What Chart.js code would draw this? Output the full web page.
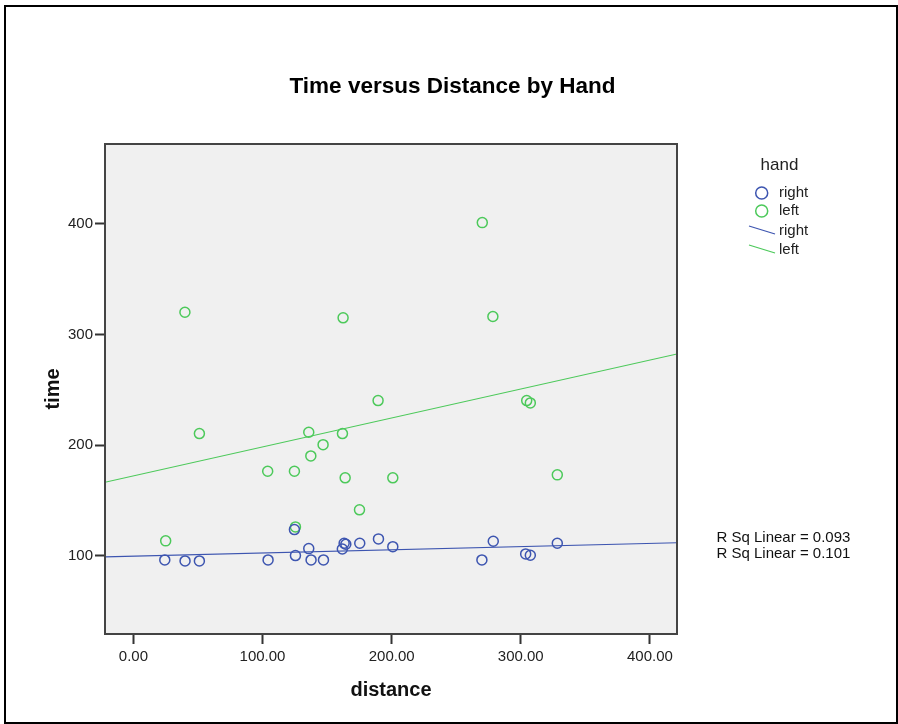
<!DOCTYPE html>
<html>
<head>
<meta charset="utf-8">
<script src="https://cdn.jsdelivr.net/npm/chart.js@4"></script>
<style>
body{margin:0;background:#fff;}
canvas{display:block;}
</style>
</head>
<body>
<canvas id="c" width="898" height="724"></canvas>
<script>
// values
const rightDistance = [24.3, 40, 51.1, 104.3, 124.7, 125.5, 135.8, 137.6, 147.2, 161.8, 163.2, 164.5, 175.3, 189.8, 200.9, 269.9, 278.7, 303.8, 307.4, 328.3];
const rightTime     = [96.4, 95.5, 95.5, 96.4, 123.8, 100.3, 106.6, 96.4, 96.4, 106.3, 111.5, 110.5, 111.5, 115.4, 108.4, 96.4, 113.3, 101.8, 100.6, 111.5];
const leftDistance  = [25, 39.9, 51.1, 104, 124.7, 125.5, 135.8, 137.4, 146.9, 161.9, 162.4, 164, 175.1, 189.5, 200.9, 270.2, 278.4, 304.6, 307.4, 328.3];
const leftTime      = [113.6, 320.1, 210.5, 176.5, 176.5, 126.2, 211.7, 190.3, 200.5, 210.5, 315, 170.5, 141.6, 240.3, 170.5, 401, 316.2, 240.3, 238.2, 173.2];
const xTicks = [0, 100, 200, 300, 400];
const yTicks = [100, 200, 300, 400];
const groups = ['right', 'left'];
const rSqLabels = ['R Sq Linear = 0.093', 'R Sq Linear = 0.101'];

const xMin = -22, xMax = 421, yMin = 29.5, yMax = 472;
const BLUE = '#3d55b0', GREEN = '#4cc95a';
const FONT = "'Liberation Sans', Arial, sans-serif";

function fit(xs, ys){
    let n = xs.length;
    let mx = xs.reduce((a,b)=>a+b,0)/n, my = ys.reduce((a,b)=>a+b,0)/n;
    let sxy = 0, sxx = 0;
    for(let i=0;i<n;i++){ sxy += (xs[i]-mx)*(ys[i]-my); sxx += (xs[i]-mx)*(xs[i]-mx); }
    let b = sxy/sxx;
    return {a: my - b*mx, b: b};
}
function fitLine(xs, ys){
    let f = fit(xs, ys);
    return [xMin, xMax].map(x => ({x: x, y: f.a + f.b*x}));
}
function pts(xs, ys){ return xs.map((x,i)=>({x: x, y: ys[i]})); }

const decor = {
    id: 'decor',
    beforeDraw(chart){
        let {ctx, chartArea: a} = chart;
        ctx.save();
        ctx.fillStyle = '#f0f0f0';
        ctx.fillRect(a.left, a.top, a.right-a.left, a.bottom-a.top);
        ctx.restore();
    },
    afterDraw(chart){
        let {ctx, chartArea: a} = chart;
        ctx.save();
        // outer frame
        ctx.strokeStyle = '#000';
        ctx.lineWidth = 2;
        ctx.strokeRect(5, 6, 892, 717);
        // plot frame
        ctx.strokeStyle = '#444';
        ctx.strokeRect(a.left, a.top, a.right-a.left, a.bottom-a.top);
        // title
        ctx.fillStyle = '#000';
        ctx.textAlign = 'center';
        ctx.textBaseline = 'middle';
        ctx.font = 'bold 22.5px ' + FONT;
        ctx.fillText('Time versus Distance by Hand', 452.5, 87);
        // legend
        ctx.fillStyle = '#222';
        ctx.font = '17px ' + FONT;
        ctx.fillText('hand', 779.5, 165);
        ctx.textAlign = 'left';
        ctx.font = '15px ' + FONT;
        let cols = [BLUE, GREEN];
        [193, 211].forEach((y,i)=>{
            ctx.beginPath();
            ctx.strokeStyle = cols[i];
            ctx.lineWidth = 1.5;
            ctx.arc(761.7, y, 6, 0, Math.PI*2);
            ctx.stroke();
            ctx.fillText(groups[i], 779, y);
        });
        [231, 250].forEach((y,i)=>{
            ctx.beginPath();
            ctx.strokeStyle = cols[i];
            ctx.lineWidth = 1.3;
            ctx.moveTo(749, y-5);
            ctx.lineTo(775, y+3);
            ctx.stroke();
            ctx.fillText(groups[i], 779, y);
        });
        // R squared
        ctx.fillStyle = '#111';
        ctx.fillText(rSqLabels[0], 716.5, 538);
        ctx.fillText(rSqLabels[1], 716.5, 554);
        ctx.restore();
    }
};

new Chart(document.getElementById('c'), {
    type: 'scatter',
    data: {
        datasets: [
            {label: 'right', data: pts(rightDistance, rightTime), borderColor: BLUE, backgroundColor: 'rgba(0,0,0,0)', pointRadius: 5, borderWidth: 1.5},
            {label: 'left', data: pts(leftDistance, leftTime), borderColor: GREEN, backgroundColor: 'rgba(0,0,0,0)', pointRadius: 5, borderWidth: 1.5},
            {label: 'right fit', data: fitLine(rightDistance, rightTime), showLine: true, borderColor: BLUE, borderWidth: 1.2, pointRadius: 0},
            {label: 'left fit', data: fitLine(leftDistance, leftTime), showLine: true, borderColor: GREEN, borderWidth: 1.2, pointRadius: 0}
        ]
    },
    options: {
        responsive: false,
        animation: false,
        events: [],
        layout: {padding: {left: 0, top: 144, right: 221, bottom: 0}},
        plugins: {legend: {display: false}, title: {display: false}, tooltip: {enabled: false}},
        scales: {
            x: {
                type: 'linear', min: xMin, max: xMax,
                afterBuildTicks: s => { s.ticks = xTicks.map(v => ({value: v})); },
                afterFit: s => { s.height = 90; },
                grid: {drawOnChartArea: false, drawTicks: true, tickLength: 10, tickWidth: 2, tickColor: '#333'},
                border: {display: false},
                ticks: {padding: 4, color: '#222', autoSkip: false, maxRotation: 0, font: {family: FONT, size: 15}, callback: v => v.toFixed(2)},
                title: {display: true, text: 'distance', color: '#111', font: {family: FONT, size: 20, weight: 'bold'}, padding: {top: 0, bottom: 22}}
            },
            y: {
                type: 'linear', min: yMin, max: yMax,
                afterBuildTicks: s => { s.ticks = yTicks.map(v => ({value: v})); },
                afterFit: s => { s.width = 105; },
                grid: {drawOnChartArea: false, drawTicks: true, tickLength: 10, tickWidth: 2, tickColor: '#333'},
                border: {display: false},
                ticks: {padding: 2, color: '#222', autoSkip: false, font: {family: FONT, size: 15}, callback: v => String(v)},
                title: {display: true, text: 'time', color: '#111', font: {family: FONT, size: 20, weight: 'bold'}, padding: {top: 41, bottom: 0}}
            }
        }
    },
    plugins: [decor]
});
</script>
</body>
</html>
